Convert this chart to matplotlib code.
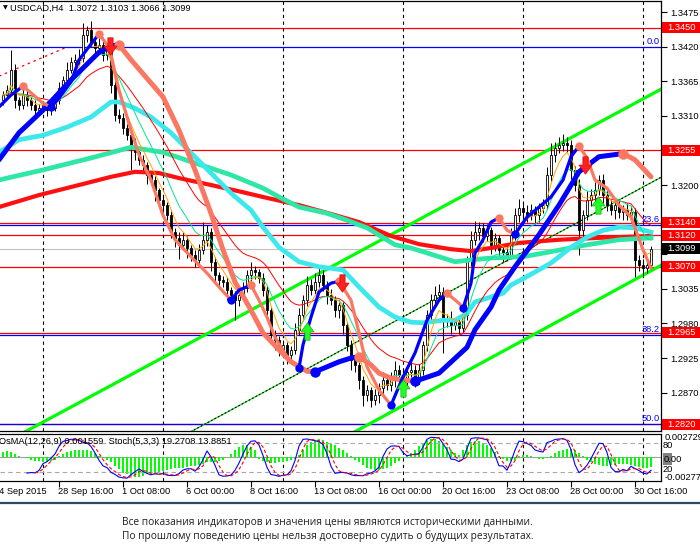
import numpy as np
import pandas as pd
import matplotlib
matplotlib.use("Agg")
import matplotlib.pyplot as plt
import matplotlib.transforms as mtrans
from matplotlib.path import Path
from matplotlib.patches import Rectangle
from matplotlib.lines import Line2D

plt.rcParams['font.family'] = ['Liberation Sans', 'DejaVu Sans']

# ---------------- data (USDCAD H4) ----------------
first_bar = -10
first_open = 1.3335
closes = [
    1.3343, 1.3351, 1.3383, 1.3335, 1.3327, 1.3343, 1.3335, 1.3327, 1.3319, 1.3322,
    1.3327, 1.3319, 1.3322, 1.3335, 1.3354, 1.3367, 1.3383, 1.3396, 1.3399, 1.3402,
    1.3438, 1.3446, 1.3427, 1.3418, 1.3423, 1.3407, 1.3415, 1.3359, 1.3311, 1.3307,
    1.3291, 1.3280, 1.3264, 1.3252, 1.3240, 1.3232, 1.3216, 1.3208, 1.3192, 1.3176,
    1.3168, 1.3152, 1.3125, 1.3116, 1.3105, 1.3113, 1.3100, 1.3089, 1.3081, 1.3097,
    1.3113, 1.3125, 1.3078, 1.3057, 1.3049, 1.3046, 1.3033, 1.3025, 1.3017, 1.3025,
    1.3036, 1.3057, 1.3065, 1.3062, 1.3052, 1.3033, 1.3001, 1.2962, 1.2954, 1.2938,
    1.2946, 1.2930, 1.2938, 1.2970, 1.2993, 1.3017, 1.3041, 1.3033, 1.3046, 1.3057,
    1.3041, 1.3025, 1.3017, 1.3001, 1.3009, 1.2977, 1.2946, 1.2922, 1.2914, 1.2890,
    1.2866, 1.2874, 1.2858, 1.2866, 1.2877, 1.2890, 1.2882, 1.2893, 1.2906, 1.2898,
    1.2890, 1.2903, 1.2906, 1.2893, 1.2906, 1.2946, 1.2993, 1.3017, 1.3025, 1.3030,
    1.2985, 1.2989, 1.2977, 1.2982, 1.2973, 1.2993, 1.3081, 1.3113, 1.3125, 1.3132,
    1.3119, 1.3128, 1.3105, 1.3116, 1.3097, 1.3094, 1.3089, 1.3121, 1.3152, 1.3163,
    1.3157, 1.3152, 1.3160, 1.3152, 1.3163, 1.3168, 1.3216, 1.3248, 1.3259, 1.3264,
    1.3267, 1.3264, 1.3224, 1.3200, 1.3128, 1.3152, 1.3176, 1.3184, 1.3192, 1.3208,
    1.3184, 1.3168, 1.3160, 1.3168, 1.3157, 1.3160, 1.3152, 1.3157, 1.3081, 1.3073,
    1.3068, 1.3073, 1.3099,
]
# wick lengths in pips above / below the candle body
wick_up = [
    6, 8, 32, 10, 5, 12, 6, 5, 8, 6,
    5, 7, 6, 8, 10, 6, 12, 8, 10, 14,
    20, 6, 15, 8, 10, 12, 8, 5, 6, 10,
    8, 6, 5, 10, 6, 8, 5, 7, 6, 4,
    6, 5, 8, 6, 10, 12, 6, 5, 8, 10,
    28, 12, 6, 8, 5, 6, 7, 5, 6, 8,
    10, 8, 12, 6, 5, 8, 6, 5, 7, 6,
    8, 5, 6, 10, 12, 8, 15, 10, 14, 12,
    8, 6, 10, 6, 8, 5, 6, 8, 6, 5,
    6, 8, 5, 10, 8, 12, 6, 10, 14, 8,
    10, 6, 12, 8, 10, 6, 8, 10, 15, 12,
    8, 6, 10, 6, 8, 12, 6, 14, 18, 10,
    8, 10, 6, 8, 5, 6, 8, 10, 12, 14,
    8, 12, 10, 6, 8, 10, 12, 18, 10, 12,
    14, 10, 8, 6, 10, 8, 14, 10, 12, 8,
    10, 12, 8, 10, 6, 8, 12, 10, 6, 8,
    10, 6, 4,
]
wick_dn = [
    8, 6, 5, 12, 8, 6, 10, 8, 14, 6,
    6, 10, 8, 5, 6, 8, 6, 5, 6, 8,
    6, 10, 8, 12, 6, 10, 8, 12, 10, 8,
    10, 8, 40, 12, 8, 10, 14, 6, 18, 10,
    12, 8, 10, 14, 22, 8, 16, 10, 12, 8,
    6, 10, 14, 12, 10, 8, 16, 12, 32, 10,
    8, 6, 10, 12, 8, 10, 14, 12, 16, 10,
    12, 14, 10, 6, 8, 6, 10, 8, 6, 8,
    10, 14, 8, 10, 12, 14, 10, 16, 12, 14,
    18, 10, 11, 8, 12, 10, 8, 10, 14, 8,
    10, 12, 8, 14, 10, 8, 10, 12, 8, 10,
    52, 10, 14, 8, 10, 6, 8, 10, 8, 12,
    10, 8, 14, 10, 12, 16, 10, 6, 8, 10,
    12, 10, 8, 14, 10, 8, 6, 10, 12, 8,
    10, 12, 14, 10, 39, 12, 8, 10, 12, 8,
    12, 10, 8, 14, 10, 12, 8, 10, 27, 10,
    12, 8, 6,
]
# OsMA histogram read from the lower window, in units of 0.0001
osma_read = [
    6, 7, 6, 4, 2, 0, -1,
    -3, -4, -4, -5, -5, -4, -3,
    2, 4, 6, 7, 8, 8, 9, 8, 7, 5,
    2, -1, -3,
    -6, -10, -14, -18, -20, -22, -23, -23, -22, -20, -19, -18,
    -17, -16, -15, -14, -13, -12, -12, -11, -10, -10, -9, -8,
    -6, -5, -5, -4, -3,
    0, 4, 8, 12, 14, 14, 12, 8,
    -2, -4, -6, -7, -7, -6, -5, -4, -3, -2,
    3, 8, 14, 18, 20, 21, 20, 18, 16, 14,
    11, 8, 5, 2,
    -3, -6, -9, -12, -14, -15, -15, -14, -12, -10,
    -7, -4, -1, 2, 5,
    9, 13, 17, 20, 22, 21, 19, 16,
    12, 8, 5, 3,
    8, 14, 18, 19, 19, 17, 14, 11,
    6, 2, -2, -4, -4, -3,
    2, 3, 3, 2, 0, -2,
    -2, -1, 2, 5,
    7, 9, 10, 10, 8, 5,
    1, -3, -6, -8, -9, -10, -10, -9, -9, -8, -8, -8, -9, -10, -11, -12, -12, -11,
]

# slow and fast trend lines (blue while rising, salmon while falling)
slow_bars = [-11, -6, 0, 7, 14, 17, 19, 22, 30, 34, 38, 42, 45, 48, 52, 55, 59, 62,
             66, 68, 71, 74, 77, 79, 82, 84, 87, 90, 93, 99, 106, 108, 112, 114, 118,
             124, 129, 134, 139, 145, 148, 152]
slow_vals = [1.3240, 1.3283, 1.3319, 1.3367, 1.3411, 1.3421, 1.3423, 1.3399, 1.3340,
             1.3287, 1.3224, 1.3155, 1.3097, 1.3046, 1.3001, 1.2965, 1.2938, 1.2919,
             1.2904, 1.2903, 1.2911, 1.2919, 1.2925, 1.2927, 1.2914, 1.2901, 1.2893,
             1.2890, 1.2888, 1.2901, 1.2942, 1.2970, 1.3006, 1.3033, 1.3070, 1.3121,
             1.3168, 1.3221, 1.3245, 1.3250, 1.3240, 1.3213]
fast_bars = [-11, -8, -5, -2, 0, 2, 4, 7, 9, 12, 14, 16, 17, 19, 22, 24, 27, 30, 33,
             37, 41, 44, 47, 49, 52, 54, 56, 58, 61, 64, 65, 67, 69, 72, 74, 77, 79,
             81, 84, 87, 90, 93, 96, 99, 101, 104, 105, 107, 108, 110, 112, 114, 116,
             118, 121, 124, 127, 130, 132, 134, 136, 138, 141, 144, 147, 150, 152]
fast_vals = [1.3324, 1.3343, 1.3357, 1.3341, 1.3330, 1.3324, 1.3338, 1.3364, 1.3399,
             1.3424, 1.3440, 1.3423, 1.3407, 1.3351, 1.3287, 1.3248, 1.3208, 1.3152,
             1.3113, 1.3086, 1.3060, 1.3038, 1.3017, 1.3033, 1.3041, 1.3017, 1.2990,
             1.2958, 1.2927, 1.2909, 1.2946, 1.2990, 1.3030, 1.3044, 1.3047, 1.3017,
             1.2965, 1.2911, 1.2874, 1.2850, 1.2895, 1.2933, 1.2985, 1.3017, 1.3028,
             1.3012, 1.3004, 1.3044, 1.3092, 1.3113, 1.3141, 1.3148, 1.3128, 1.3122,
             1.3149, 1.3165, 1.3181, 1.3208, 1.3245, 1.3262, 1.3243, 1.3208, 1.3195,
             1.3168, 1.3149, 1.3097, 1.3068]

# long moving averages
cyan_bars = [-11, -6, 0, 6, 12, 17, 19, 23, 27, 32, 37, 42, 47, 52, 55, 59, 64, 69,
             75, 79, 84, 88, 92, 95, 100, 103, 106, 108, 112, 115, 117, 120, 127, 132,
             136, 140, 144, 148, 152]
cyan_vals = [1.3252, 1.3272, 1.3279, 1.3292, 1.3308, 1.3332, 1.3332, 1.3322, 1.3308,
             1.3283, 1.3251, 1.3219, 1.3187, 1.3160, 1.3133, 1.3101, 1.3078, 1.3070,
             1.3065, 1.3038, 1.3006, 1.2990, 1.2982, 1.2981, 1.2985, 1.2985, 1.2996,
             1.3014, 1.3022, 1.3028, 1.3041, 1.3051, 1.3076, 1.3101, 1.3117, 1.3128,
             1.3133, 1.3132, 1.3125]
aqua_bars = [-11, 0, 12, 22, 30, 38, 47, 55, 59, 64, 71, 76, 81, 88, 92, 99, 103, 107,
             112, 120, 127, 136, 144, 152]
aqua_vals = [1.3208, 1.3224, 1.3243, 1.3260, 1.3252, 1.3235, 1.3216, 1.3195, 1.3181,
             1.3165, 1.3155, 1.3144, 1.3132, 1.3105, 1.3100, 1.3086, 1.3078, 1.3081,
             1.3084, 1.3086, 1.3094, 1.3105, 1.3113, 1.3116]
red_bars = [-11, -1, 9, 17, 23, 29, 34, 42, 49, 55, 64, 72, 79, 87, 94, 102, 107, 112,
            119, 129, 139, 152]
red_vals = [1.3165, 1.3184, 1.3200, 1.3213, 1.3221, 1.3219, 1.3211, 1.3200, 1.3190,
            1.3181, 1.3168, 1.3154, 1.3141, 1.3119, 1.3106, 1.3098, 1.3095, 1.3100,
            1.3108, 1.3113, 1.3116, 1.3119]

# trend channel and the short red dotted line
upper_bars = [-5, 155]
upper_vals = [1.2806, 1.3354]
lower_bars = [87, 155]
lower_vals = [1.2839, 1.3074]
dotted_bars = [-11, 5.5]
dotted_vals = [1.3373, 1.3418]

levels_red = [1.3450, 1.3255, 1.3140, 1.3120, 1.3070, 1.2965, 1.2820]
last_price = 1.3099
fib_high = 1.3420
fib_low = 1.2220
fib_ratios = [0.0, 23.6, 38.2, 50.0]

sell_bars = [16.75, 74.75, 135.5]
sell_vals = [1.3421, 1.3044, 1.3232]
buy_bars = [66, 90, 138.75]
buy_vals = [1.2968, 1.2877, 1.3168]

week_bars = [0, 30, 60, 90, 120, 150]
label_bars = [-12, 4, 20, 36, 52, 68, 84, 100, 116, 132, 148]
label_texts = ['24 Sep 2015', '28 Sep 16:00', '1 Oct 08:00', '6 Oct 00:00', '8 Oct 16:00',
               '13 Oct 08:00', '16 Oct 00:00', '20 Oct 16:00', '23 Oct 08:00',
               '28 Oct 00:00', '30 Oct 16:00']
price_ticks = [1.3475, 1.3420, 1.3365, 1.3310, 1.3255, 1.3200, 1.3145, 1.3090, 1.3035,
               1.2980, 1.2925, 1.2870, 1.2815]
hidden_ticks = [1.3255, 1.3145, 1.3090, 1.2815]   # covered by the price tags

# ---------------- derived series ----------------
bars = np.arange(first_bar, first_bar + len(closes))
c = np.array(closes)
o = np.r_[first_open, c[:-1]]
h = np.maximum(o, c) + np.array(wick_up) * 0.0001
l = np.minimum(o, c) - np.array(wick_dn) * 0.0001
osma = np.array(osma_read) * 0.0001

cs = pd.Series(c)
ema_orange = cs.ewm(span=5, adjust=False).mean()
ema_green = cs.ewm(span=10, adjust=False).mean()
ema_red = cs.ewm(span=21, adjust=False).mean()

lo5 = pd.Series(l).rolling(5).min()
hi5 = pd.Series(h).rolling(5).max()
stoch_k = 100 * (cs - lo5).rolling(3).sum() / (hi5 - lo5).rolling(3).sum()
stoch_d = stoch_k.rolling(3).mean()

# ---------------- figure ----------------
W, H = 700, 552
fig = plt.figure(figsize=(W / 100, H / 100), dpi=100)
ax = fig.add_axes([0, (H - 431) / H, 661 / W, 430 / H])
axo = fig.add_axes([0, (H - 481) / H, 661 / W, 47 / H])
axs = axo.twinx()

xmin, xmax = -10.75, 154.5
ax.set_xlim(xmin, xmax)
ax.set_ylim(1.28090, 1.34925)
for a in (axo, axs):
    a.set_xlim(xmin, xmax)
axo.set_ylim(-0.00277, 0.002729)
axs.set_ylim(0, 100)

FS = 6.7
BLUE = '#0000FF'
SALMON = '#FA7862'

# horizontal levels
for lv in levels_red:
    ax.axhline(lv, color='#FF0000', lw=0.9, zorder=1.2)
for r in fib_ratios:
    lv = fib_high - r / 100 * (fib_high - fib_low)
    ax.axhline(lv, color=BLUE, lw=0.9, zorder=1.3)
    ax.text(154.2, lv + 0.00012, '%.1f' % r, color=BLUE, fontsize=FS,
            ha='right', va='bottom', zorder=9)
ax.axhline(last_price, color='#C0C0C0', lw=0.8, zorder=1.1)

# weekly separators
for wb in week_bars:
    for a in (ax, axo):
        a.axvline(wb, color='black', lw=0.8, ls=(0, (3, 3)), zorder=1.4)

# channel
xx = np.array([xmin - 20, xmax + 5])
k_up = (upper_vals[1] - upper_vals[0]) / (upper_bars[1] - upper_bars[0])
up_line = upper_vals[0] + k_up * (xx - upper_bars[0])
k_lo = (lower_vals[1] - lower_vals[0]) / (lower_bars[1] - lower_bars[0])
lo_line = lower_vals[0] + k_lo * (xx - lower_bars[0])
ax.plot(xx, up_line, color='#00FF00', lw=2.3, zorder=1.6)
ax.plot(xx, lo_line, color='#00FF00', lw=2.3, zorder=1.6)
ax.plot(xx, (up_line + lo_line) / 2, color='#00CC00', lw=0.8, zorder=1.6)
ax.plot(xx, (up_line + lo_line) / 2, color='black', lw=0.8, ls=(0, (1.5, 2)), zorder=1.65)
ax.plot(dotted_bars, dotted_vals, color='#FF0000', lw=0.9, ls=(0, (2, 3)), zorder=1.6)

# candles
ax.vlines(bars, l, h, color='black', lw=0.7, zorder=2)
up = c >= o
ax.bar(bars[up], (c - o)[up], bottom=o[up], width=0.7, facecolor='white',
       edgecolor='black', lw=0.6, zorder=2.1)
ax.bar(bars[~up], (c - o)[~up], bottom=o[~up], width=0.7, facecolor='black',
       edgecolor='black', lw=0.6, zorder=2.1)

# long averages
ax.plot(red_bars, red_vals, color='#FF1010', lw=3.0, zorder=3)
ax.plot(aqua_bars, aqua_vals, color='#2EE6A6', lw=3.4, zorder=3.1)
ax.plot(cyan_bars, cyan_vals, color='#3CE8EC', lw=3.4, zorder=3.2)

# short averages
ax.plot(bars, ema_red, color='#FF0000', lw=0.7, zorder=4)
ax.plot(bars, ema_green, color='#00E890', lw=0.7, zorder=4.1)
ax.plot(bars, ema_orange, color='#FFA500', lw=0.7, zorder=4.2)


def trend_line(xs, ys, lw, ms, z):
    xs = np.array(xs, float)
    ys = np.array(ys, float)
    d = np.sign(np.diff(ys))
    start = 0
    for k in range(1, len(d) + 1):
        if k == len(d) or d[k] != d[start]:
            col = BLUE if d[start] > 0 else SALMON
            ax.plot(xs[start:k + 1], ys[start:k + 1], color=col, lw=lw,
                    solid_capstyle='round', solid_joinstyle='round', zorder=z)
            if k < len(d):
                dot = SALMON if d[start] > 0 else BLUE
                ax.plot(xs[k], ys[k], 'o', color=dot, ms=ms, mew=0, zorder=z + 0.5)
            start = k


trend_line(slow_bars, slow_vals, 3.6, 7.5, 5)
trend_line(fast_bars, fast_vals, 2.3, 6, 6)

# signal arrows
down_arrow = Path([(-0.3, 1), (0.3, 1), (0.3, 0.05), (0.75, 0.05), (0, -1),
                   (-0.75, 0.05), (-0.3, 0.05), (-0.3, 1)],
                  [Path.MOVETO] + [Path.LINETO] * 6 + [Path.CLOSEPOLY])
up_arrow = Path(down_arrow.vertices * np.array([1, -1]), down_arrow.codes)
ax.plot(sell_bars, sell_vals, ls='none', marker=down_arrow, ms=12.5,
        color='#FF2020', mec='#E00000', mew=0.5, zorder=8)
ax.plot(buy_bars, buy_vals, ls='none', marker=up_arrow, ms=12.5,
        color='#22FF22', mec='#10B010', mew=0.5, zorder=8)

# main axis frame and right price scale
ax.spines['left'].set_visible(False)
for s in ('top', 'right', 'bottom'):
    ax.spines[s].set_linewidth(0.9)
ax.tick_params(axis='x', bottom=False, labelbottom=False)
ax.yaxis.tick_right()
ax.set_yticks(price_ticks)
ax.set_yticklabels(['' if t in hidden_ticks else '%.4f' % t for t in price_ticks])
ax.tick_params(axis='y', direction='out', length=4, width=0.8, pad=2.5, labelsize=FS)

# coloured price tags on the right
tag_tr = mtrans.blended_transform_factory(fig.transFigure, ax.transData)
hh = 5.5 / 6291
for lv, fc in [(v, '#FF0000') for v in levels_red] + [(last_price, '#000000')]:
    ax.add_patch(Rectangle((662 / W, lv - hh), 38 / W, 2 * hh, transform=tag_tr,
                           facecolor=fc, edgecolor='none', clip_on=False, zorder=20))
    ax.text(667 / W, lv, '%.4f' % lv, transform=tag_tr, color='white', fontsize=FS,
            va='center', ha='left', clip_on=False, zorder=21)

# header
fig.text(3 / W, 1 - 8 / H, '\u25bc', fontsize=4.5, va='center', ha='left',
         family=['DejaVu Sans'])
fig.text(10 / W, 1 - 8 / H, 'USDCAD,H4  1.3072 1.3103 1.3066 1.3099', fontsize=FS,
         va='center', ha='left')

# ---------------- indicator window ----------------
axo.bar(bars, osma, width=0.7, color='#00FF00', lw=0, zorder=2)
axo.axhline(0, color='#A0A0A0', lw=0.8, zorder=1.5)
axs.axhline(80, color='#A8A8A8', lw=0.8, ls=(0, (4, 3)), zorder=1)
axs.axhline(20, color='#A8A8A8', lw=0.8, ls=(0, (4, 3)), zorder=1)
axs.plot(bars, stoch_k, color=BLUE, lw=0.8, zorder=3)
axs.plot(bars, stoch_d, color='#FF0000', lw=0.8, ls=(0, (3, 2)), zorder=3.1)

axo.spines['left'].set_visible(False)
axs.spines['left'].set_visible(False)
axo.set_yticks([])
axs.set_yticks([])
axo.set_xticks(label_bars[1:])
axo.tick_params(axis='x', direction='out', length=4, width=0.8, labelbottom=False)
axs.tick_params(axis='x', bottom=False, labelbottom=False)

xl_tr = mtrans.blended_transform_factory(axo.transData, fig.transFigure)
for b, t in zip(label_bars, label_texts):
    axo.text(b - 0.3, 1 - 491 / H, t, transform=xl_tr, fontsize=FS, ha='left',
             va='center', clip_on=False)

fig.text(-1 / W, 1 - 442 / H, 'OsMA(12,26,9) 0.001559  Stoch(5,3,3) 19.2708 13.8851',
         fontsize=FS, va='center', ha='left')
fig.text(665 / W, 1 - 438 / H, '0.002729', fontsize=FS, va='center', ha='left')
fig.text(663 / W, 1 - 445 / H, '80', fontsize=FS, va='center', ha='left')
fig.patches.append(Rectangle((663 / W, 1 - 465 / H), 9 / W, 12 / H,
                             transform=fig.transFigure, facecolor='#808080',
                             edgecolor='none'))
fig.text(664 / W, 1 - 459 / H, '0.00', fontsize=FS, va='center', ha='left')
fig.text(663 / W, 1 - 470 / H, '20', fontsize=FS, va='center', ha='left')
fig.text(665 / W, 1 - 477 / H, '-0.00277', fontsize=FS, va='center', ha='left')

# ---------------- disclaimer ----------------
fig.add_artist(Line2D([0, 1], [1 - 503 / H] * 2, color='#2A4C62', lw=1.6))
note_font = ['Open Sans', 'DejaVu Sans']
fig.text(122 / W, 1 - 522 / H,
         'Все показания индикаторов и значения цены являются историческими данными.',
         fontsize=7.3, color='#1E1E1E', va='center', ha='left', family=note_font)
fig.text(122 / W, 1 - 536 / H,
         'По прошлому поведению цены нельзя достоверно судить о будущих результатах.',
         fontsize=7.3, color='#1E1E1E', va='center', ha='left', family=note_font)

fig.savefig('out.png', dpi=100)
